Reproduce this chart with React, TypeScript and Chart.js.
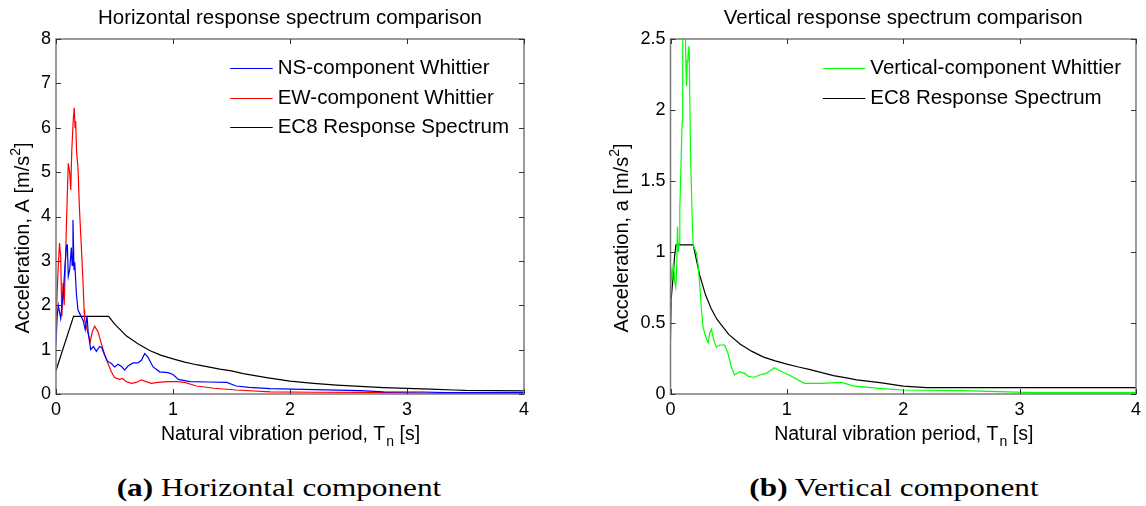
import React, { useEffect, useRef } from "react";
import { Chart, registerables } from "chart.js";
Chart.register(...registerables);

// ---------- data ----------
const X_TICKS = [0, 1, 2, 3, 4];
const H_Y_TICKS = [0, 1, 2, 3, 4, 5, 6, 7, 8];
const V_Y_TICKS = [0, 0.5, 1, 1.5, 2, 2.5];

const NS_T = [0, 0.01, 0.02, 0.04, 0.063, 0.077, 0.09, 0.097, 0.105, 0.117, 0.131, 0.138, 0.145, 0.154, 0.16, 0.174, 0.188, 0.205, 0.233, 0.25, 0.265, 0.275, 0.296, 0.32, 0.345, 0.373, 0.39, 0.416, 0.44, 0.473, 0.5, 0.53, 0.56, 0.587, 0.615, 0.66, 0.7, 0.73, 0.758, 0.786, 0.83, 0.886, 0.957, 1.0, 1.046, 1.145, 1.3, 1.46, 1.54, 1.65, 1.83, 2.115, 2.6, 2.8, 3.14, 3.34, 4.0];
const NS_A = [1.15, 1.75, 2.0, 1.7, 2.3, 2.9, 3.35, 3.36, 2.65, 2.8, 3.3, 2.9, 3.92, 2.8, 2.97, 2.27, 1.89, 1.8, 1.65, 1.45, 1.76, 1.4, 1.0, 1.07, 0.96, 1.07, 1.05, 0.88, 0.74, 0.69, 0.61, 0.67, 0.62, 0.54, 0.63, 0.7, 0.7, 0.76, 0.91, 0.83, 0.61, 0.5, 0.48, 0.44, 0.33, 0.28, 0.27, 0.26, 0.18, 0.15, 0.12, 0.105, 0.075, 0.05, 0.045, 0.03, 0.03];

const EW_T = [0, 0.01, 0.02, 0.03, 0.04, 0.05, 0.06, 0.07, 0.08, 0.09, 0.105, 0.117, 0.126, 0.135, 0.148, 0.156, 0.163, 0.168, 0.176, 0.188, 0.2, 0.217, 0.23, 0.24, 0.245, 0.273, 0.293, 0.31, 0.33, 0.36, 0.387, 0.416, 0.444, 0.473, 0.5, 0.544, 0.57, 0.6, 0.644, 0.687, 0.73, 0.77, 0.815, 0.87, 0.957, 1.037, 1.1, 1.2, 1.35, 1.54, 1.83, 2.2, 2.63, 3.34, 4.0];
const EW_A = [1.6, 2.3, 2.9, 3.4, 3.1, 1.75, 2.5, 2.0, 2.9, 3.9, 5.2, 5.0, 4.6, 5.5, 6.2, 6.45, 6.0, 6.15, 5.45, 5.1, 4.2, 3.3, 2.57, 1.9, 1.67, 1.37, 1.18, 1.4, 1.53, 1.4, 1.14, 0.88, 0.69, 0.5, 0.37, 0.33, 0.35, 0.28, 0.24, 0.26, 0.32, 0.28, 0.24, 0.26, 0.28, 0.28, 0.26, 0.18, 0.13, 0.09, 0.05, 0.04, 0.035, 0.015, 0.015];

const EC8H_T = [0, 0.15, 0.45, 0.5, 0.6, 0.7, 0.8, 0.9, 1.0, 1.1, 1.2, 1.3, 1.4, 1.5, 1.6, 1.8, 2.0, 2.2, 2.4, 2.6, 2.8, 3.0, 3.2, 3.4, 3.5, 4.0];
const EC8H_A = [0.53, 1.75, 1.75, 1.58, 1.31, 1.13, 0.98, 0.87, 0.79, 0.72, 0.66, 0.61, 0.56, 0.52, 0.46, 0.37, 0.29, 0.24, 0.2, 0.17, 0.145, 0.125, 0.11, 0.09, 0.08, 0.07];

const VERT_T = [0, 0.003, 0.01, 0.024, 0.038, 0.045, 0.052, 0.06, 0.067, 0.075, 0.08, 0.1, 0.105, 0.12, 0.133, 0.138, 0.144, 0.15, 0.16, 0.172, 0.186, 0.195, 0.224, 0.238, 0.252, 0.266, 0.28, 0.303, 0.323, 0.337, 0.352, 0.372, 0.394, 0.423, 0.466, 0.494, 0.523, 0.55, 0.594, 0.637, 0.674, 0.722, 0.765, 0.822, 0.893, 0.936, 1.02, 1.05, 1.15, 1.3, 1.42, 1.48, 1.565, 1.79, 1.99, 2.5, 2.82, 3.13, 4.0];
const VERT_A = [0.65, 0.9, 0.8, 0.92, 0.78, 0.75, 0.85, 1.18, 1.0, 1.06, 1.3, 1.92, 2.7, 2.9, 2.29, 2.17, 2.35, 2.38, 2.45, 1.7, 1.25, 1.05, 0.99, 0.9, 0.76, 0.59, 0.47, 0.4, 0.36, 0.43, 0.455, 0.38, 0.33, 0.345, 0.345, 0.285, 0.19, 0.134, 0.157, 0.145, 0.122, 0.118, 0.134, 0.145, 0.185, 0.165, 0.134, 0.12, 0.075, 0.075, 0.08, 0.08, 0.057, 0.04, 0.028, 0.024, 0.017, 0.01, 0.01];

const EC8V_T = [0, 0.005, 0.02, 0.035, 0.047, 0.195, 0.25, 0.3, 0.35, 0.4, 0.5, 0.6, 0.7, 0.8, 0.9, 1.0, 1.1, 1.2, 1.3, 1.4, 1.5, 1.6, 1.8, 2.0, 2.2, 4.0];
const EC8V_A = [0.39, 0.66, 0.8, 0.97, 1.05, 1.05, 0.84, 0.7, 0.6, 0.525, 0.42, 0.35, 0.3, 0.26, 0.233, 0.21, 0.19, 0.172, 0.15, 0.13, 0.115, 0.1, 0.08, 0.055, 0.045, 0.045];

// ---------- helpers ----------
const SANS = '"Liberation Sans", Arial, Helvetica, sans-serif';
const pts = (t: number[], a: number[]) => t.map((x, i) => ({ x, y: a[i] }));

const decor = {
  id: "decor",
  afterDraw(chart: any, _args: any, o: any) {
    const { ctx, chartArea: a } = chart;
    const xs = chart.scales.x;
    const ys = chart.scales.y;
    ctx.save();
    // box
    ctx.strokeStyle = "#7a7a7a";
    ctx.lineWidth = 1.5;
    ctx.strokeRect(a.left, a.top, a.right - a.left, a.bottom - a.top);
    // inside ticks on all sides
    ctx.strokeStyle = "#333";
    ctx.lineWidth = 1;
    ctx.beginPath();
    xs.ticks.forEach((t: any) => {
      const p = Math.round(xs.getPixelForValue(t.value)) + 0.5;
      ctx.moveTo(p, a.bottom);
      ctx.lineTo(p, a.bottom - 5);
      ctx.moveTo(p, a.top);
      ctx.lineTo(p, a.top + 5);
    });
    ys.ticks.forEach((t: any) => {
      const p = Math.round(ys.getPixelForValue(t.value)) + 0.5;
      ctx.moveTo(a.left, p);
      ctx.lineTo(a.left + 5, p);
      ctx.moveTo(a.right, p);
      ctx.lineTo(a.right - 5, p);
    });
    ctx.stroke();

    ctx.fillStyle = "#000";
    // title
    ctx.font = `20.5px ${SANS}`;
    ctx.textAlign = "center";
    ctx.textBaseline = "middle";
    ctx.fillText(o.title, (a.left + a.right) / 2, o.titleY);

    // x label with subscript
    ctx.textAlign = "left";
    ctx.textBaseline = "alphabetic";
    const big = `19.5px ${SANS}`;
    const small = `14px ${SANS}`;
    ctx.font = big;
    const w1 = ctx.measureText(o.xPre).width;
    const w3 = ctx.measureText(o.xPost).width;
    ctx.font = small;
    const w2 = ctx.measureText(o.xSub).width;
    const x0 = (a.left + a.right) / 2 - (w1 + w2 + w3) / 2;
    const by = o.xLabelY + 7;
    ctx.font = big;
    ctx.fillText(o.xPre, x0, by);
    ctx.font = small;
    ctx.fillText(o.xSub, x0 + w1 + 1, by + 6);
    ctx.font = big;
    ctx.fillText(o.xPost, x0 + w1 + w2 + 1, by);

    // y label with superscript (rotated)
    ctx.save();
    ctx.translate(a.left - o.yLabelOffset, o.yLabelY);
    ctx.rotate(-Math.PI / 2);
    const yb = `20px ${SANS}`;
    ctx.font = yb;
    const v1 = ctx.measureText(o.yPre).width;
    const v3 = ctx.measureText(o.yPost).width;
    ctx.font = small;
    const v2 = ctx.measureText(o.ySup).width;
    const s0 = -(v1 + v2 + v3) / 2;
    ctx.font = yb;
    ctx.fillText(o.yPre, s0, 7);
    ctx.font = small;
    ctx.fillText(o.ySup, s0 + v1, -2);
    ctx.font = yb;
    ctx.fillText(o.yPost, s0 + v1 + v2, 7);
    ctx.restore();

    // legend (inside, top-right)
    ctx.font = `20.5px ${SANS}`;
    ctx.textBaseline = "middle";
    ctx.textAlign = "left";
    const labels: string[] = chart.data.datasets.map((d: any) => d.label);
    const colors: string[] = o.legendColors;
    const maxW = Math.max(...labels.map((l) => ctx.measureText(l).width));
    const tx = a.right - 15 - maxW;
    labels.forEach((l, i) => {
      const y = Math.round(a.top + 29 + i * 29.5) + 0.5;
      ctx.strokeStyle = colors[i];
      ctx.lineWidth = 1.2;
      ctx.beginPath();
      ctx.moveTo(tx - 47.5, y);
      ctx.lineTo(tx - 5, y);
      ctx.stroke();
      ctx.fillStyle = "#000";
      ctx.fillText(l, tx, y);
    });
    ctx.restore();
  },
};

type PanelProps = {
  left: number;
  datasets: any[];
  yMax: number;
  yTicks: number[];
  yWidth: number;
  padRight: number;
  title: string;
  yPre: string;
  yLabelOffset: number;
};

const W = 573;
const H = 460;
const PLOT_TOP = 39;
const PLOT_BOTTOM = 394;

function Panel(p: PanelProps) {
  const ref = useRef<HTMLCanvasElement | null>(null);
  useEffect(() => {
    if (!ref.current) return;
    const legendColors = p.datasets.map((d) => d.borderColor);
    const chart = new Chart(ref.current, {
      type: "line",
      data: { datasets: p.datasets.map((d) => ({ ...d })) },
      plugins: [decor as any],
      options: {
        responsive: false,
        maintainAspectRatio: false,
        devicePixelRatio: 1,
        animation: false,
        events: [],
        layout: { padding: { left: 0, right: p.padRight, top: PLOT_TOP, bottom: 0 } },
        elements: { point: { radius: 0 }, line: { tension: 0 } },
        scales: {
          x: {
            type: "linear",
            min: 0,
            max: 4,
            grid: { display: false, drawTicks: false },
            border: { display: false },
            afterBuildTicks: (s: any) => {
              s.ticks = X_TICKS.map((v) => ({ value: v }));
            },
            afterFit: (s: any) => {
              s.height = H - PLOT_BOTTOM;
            },
            ticks: {
              padding: 5,
              color: "#000",
              font: { family: SANS, size: 18 },
              maxRotation: 0,
              callback: (v: any) => String(v),
            },
          },
          y: {
            type: "linear",
            min: 0,
            max: p.yMax,
            grid: { display: false, drawTicks: false },
            border: { display: false },
            afterBuildTicks: (s: any) => {
              s.ticks = p.yTicks.map((v) => ({ value: v }));
            },
            afterFit: (s: any) => {
              s.width = p.yWidth;
            },
            ticks: {
              padding: 5,
              color: "#000",
              font: { family: SANS, size: 18 },
              callback: (v: any) => String(v),
            },
          },
        },
        plugins: {
          legend: { display: false },
          tooltip: { enabled: false },
          title: { display: false },
          decor: {
            title: p.title,
            titleY: 18,
            xPre: "Natural vibration period, T",
            xSub: "n",
            xPost: " [s]",
            xLabelY: 433,
            yPre: p.yPre,
            ySup: "2",
            yPost: "]",
            yLabelOffset: p.yLabelOffset,
            yLabelY: 238,
            legendColors,
          },
        } as any,
      } as any,
    });
    return () => chart.destroy();
  }, []);
  return (
    <div style={{ position: "absolute", left: p.left, top: 0, width: W, height: H }}>
      <canvas ref={ref} width={W} height={H} style={{ display: "block", width: W, height: H }} />
    </div>
  );
}

const line = (label: string, color: string, t: number[], a: number[]) => ({
  label,
  data: pts(t, a),
  borderColor: color,
  backgroundColor: color,
  borderWidth: 1.2,
  pointRadius: 0,
  fill: false,
});

const capStyle = (cx: number): React.CSSProperties => ({
  position: "absolute",
  left: cx,
  top: 487,
  whiteSpace: "nowrap",
  fontFamily: '"Liberation Serif", "Times New Roman", serif',
  fontSize: 25,
  lineHeight: 1,
  color: "#000",
  transform: "translate(-50%, -50%) scaleX(1.25)",
});

export default function App() {
  return (
    <div
      style={{
        position: "absolute",
        left: 0,
        top: 0,
        width: 1146,
        height: 506,
        background: "#fff",
        overflow: "hidden",
      }}
    >
      <Panel
        left={0}
        datasets={[
          line("NS-component Whittier", "#0000ff", NS_T, NS_A),
          line("EW-component Whittier", "#ff0000", EW_T, EW_A),
          line("EC8 Response Spectrum", "#000000", EC8H_T, EC8H_A),
        ]}
        yMax={8}
        yTicks={H_Y_TICKS}
        yWidth={56}
        padRight={49}
        title="Horizontal response spectrum comparison"
        yPre="Acceleration, A [m/s"
        yLabelOffset={34}
      />
      <Panel
        left={573}
        datasets={[
          line("Vertical-component Whittier", "#00ff00", VERT_T, VERT_A),
          line("EC8 Response Spectrum", "#000000", EC8V_T, EC8V_A),
        ]}
        yMax={2.5}
        yTicks={V_Y_TICKS}
        yWidth={97.5}
        padRight={7.5}
        title="Vertical response spectrum comparison"
        yPre="Acceleration, a [m/s"
        yLabelOffset={50}
      />
      <div style={capStyle(278.5)}>
        <b>(a)</b> Horizontal component
      </div>
      <div style={capStyle(894)}>
        <b>(b)</b> Vertical component
      </div>
    </div>
  );
}
